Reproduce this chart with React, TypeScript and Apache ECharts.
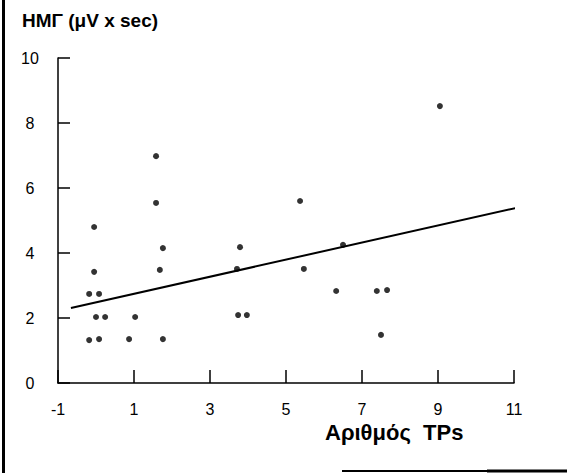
import React, { useEffect, useRef } from "react";
import * as echarts from "echarts";

// Scatter points: [Αριθμός TPs, HMΓ (μV x sec)]
const tpCounts = [1.58, 1.58, -0.05, 1.76, -0.05, 1.68, -0.18, 0.08, 0.0, 0.24, 1.03, -0.18, 0.08, 0.87, 1.76, 5.37, 3.79, 3.71, 5.47, 6.5, 6.32, 3.74, 3.97, 7.39, 7.66, 7.5, 9.05];
const hmgValues = [6.98, 5.54, 4.8, 4.15, 3.42, 3.48, 2.74, 2.74, 2.03, 2.03, 2.03, 1.32, 1.35, 1.35, 1.35, 5.6, 4.18, 3.51, 3.51, 4.25, 2.83, 2.09, 2.09, 2.83, 2.86, 1.48, 8.52];

// Regression line end points
const fitX = [-0.66, 11.03];
const fitY = [2.31, 5.38];

const xTicks = [-1, 1, 3, 5, 7, 9, 11];
const yTicks = [0, 2, 4, 6, 8, 10];

const title = "HMΓ (μV x sec)";
const xName = "Αριθμός  TPs";

export default function App() {
  const ref = useRef<HTMLDivElement>(null);
  useEffect(() => {
    if (!ref.current) return;
    const chart = echarts.init(ref.current, null, { renderer: "svg" });
    const font = "'Liberation Sans', Arial, sans-serif";
    const points = tpCounts.map((x, i) => [x, hmgValues[i]]);
    const fit = fitX.map((x, i) => [x, fitY[i]]);
    chart.setOption({
      animation: false,
      backgroundColor: "#ffffff",
      grid: { left: 58, right: 53, top: 58, bottom: 90 },
      xAxis: {
        type: "value",
        min: xTicks[0],
        max: xTicks[xTicks.length - 1],
        interval: 2,
        axisLine: { show: true, onZero: false, lineStyle: { color: "#000", width: 1.5 } },
        axisTick: { show: true, inside: true, length: 13, lineStyle: { color: "#000", width: 1.5 } },
        axisLabel: { color: "#000", fontSize: 16, fontFamily: font, margin: 18 },
        splitLine: { show: false },
      },
      yAxis: {
        type: "value",
        min: yTicks[0],
        max: yTicks[yTicks.length - 1],
        interval: 2,
        axisLine: { show: true, onZero: false, lineStyle: { color: "#000", width: 1.5 } },
        axisTick: { show: true, inside: true, length: 12, lineStyle: { color: "#000", width: 1.5 } },
        axisLabel: { color: "#000", fontSize: 16, fontFamily: font, margin: 28, align: "center" },
        splitLine: { show: false },
      },
      graphic: [
        { type: "rect", shape: { x: 2, y: 0, width: 3, height: 473 }, style: { fill: "#000" } },
        { type: "line", shape: { x1: 342, y1: 471, x2: 567, y2: 471 }, style: { stroke: "#000", lineWidth: 2 } },
        { type: "line", shape: { x1: 487, y1: 471, x2: 567, y2: 471 }, style: { stroke: "#000", lineWidth: 3 } },
        {
          type: "text",
          x: 22,
          y: 11,
          style: { text: title, font: `bold 19px ${font}`, fill: "#000" },
        },
        {
          type: "text",
          x: 325,
          y: 421,
          style: { text: xName, font: `bold 22px ${font}`, fill: "#000" },
        },
      ],
      series: [
        {
          type: "scatter",
          data: points,
          symbol: "circle",
          symbolSize: 6,
          itemStyle: { color: "#000" },
        },
        {
          type: "line",
          data: fit,
          showSymbol: false,
          lineStyle: { color: "#000", width: 2 },
        },
      ],
    });
    return () => chart.dispose();
  }, []);
  return (
    <div
      ref={ref}
      style={{ position: "fixed", left: 0, top: 0, width: 567, height: 473, background: "#fff" }}
    />
  );
}
